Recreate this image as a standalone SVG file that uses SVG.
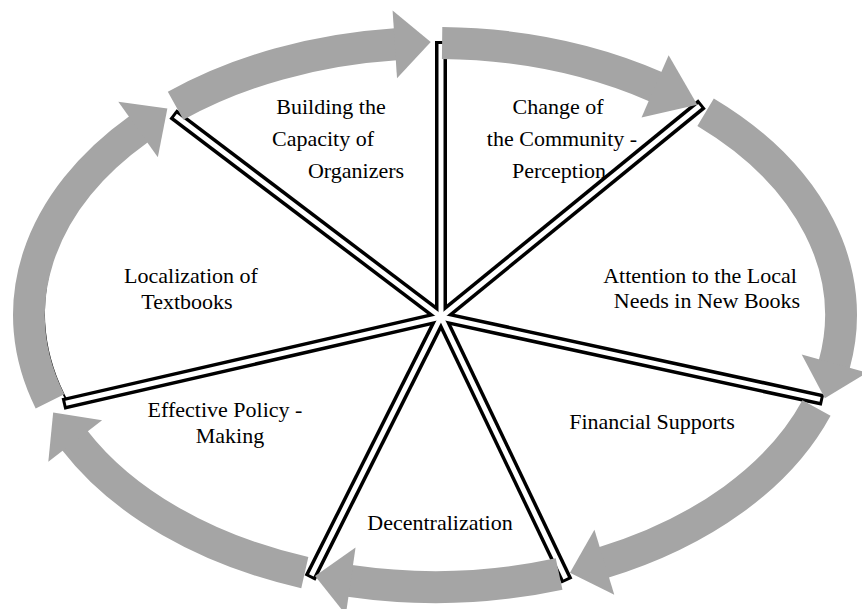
<svg xmlns="http://www.w3.org/2000/svg" width="862" height="609" viewBox="0 0 862 609">
<style>
.outline{fill:none;stroke:#000;stroke-width:1.8}
.sb{stroke:#000;stroke-width:12;fill:none}
.sw{stroke:#fff;stroke-width:5;fill:none}
.band{fill:none;stroke:#a5a5a5;stroke-width:32;stroke-linecap:butt;marker-end:url(#head)}
text{font-family:"Liberation Serif","Times New Roman",serif;font-size:22px;fill:#000;text-anchor:middle}
</style>
<defs>
<marker id="head" markerUnits="userSpaceOnUse" viewBox="-2 -40 42 80" markerWidth="42" markerHeight="80" refX="0" refY="0" orient="auto" overflow="visible">
<path d="M-1,-34 L35,0 L-1,34 Z" fill="#a5a5a5"/>
</marker>
<marker id="headLong" markerUnits="userSpaceOnUse" viewBox="-2 -40 52 80" markerWidth="52" markerHeight="80" refX="0" refY="0" orient="auto" overflow="visible">
<path d="M-1,-34 L45,0 L-1,34 Z" fill="#a5a5a5"/>
</marker>
</defs>
<rect width="862" height="609" fill="#fff"/>
<path class="outline" d="M67.9,402.6 A396,262 0 0 1 160,127.7"/>
<g id="connectors">
<g id="spokes-outer">
<line class="sb" x1="441" y1="317" x2="441" y2="41"/>
<line class="sb" x1="441" y1="317" x2="702" y2="104"/>
<line class="sb" x1="441" y1="317" x2="823" y2="400"/>
<line class="sb" x1="441" y1="317" x2="567" y2="581"/>
<line class="sb" x1="441" y1="317" x2="310" y2="578"/>
<line class="sb" x1="441" y1="317" x2="63" y2="404"/>
<line class="sb" x1="441" y1="317" x2="173" y2="114"/>
</g>
<g id="spokes-inner">
<line class="sw" x1="441" y1="317" x2="441" y2="44"/>
<line class="sw" x1="441" y1="317" x2="699.7" y2="105.9"/>
<line class="sw" x1="441" y1="317" x2="820.1" y2="399.4"/>
<line class="sw" x1="441" y1="317" x2="565.7" y2="578.3"/>
<line class="sw" x1="441" y1="317" x2="311.3" y2="575.3"/>
<line class="sw" x1="441" y1="317" x2="65.9" y2="403.3"/>
<line class="sw" x1="441" y1="317" x2="175.4" y2="115.8"/>
</g>
<g id="cycle-arrows">
<path class="band" d="M175.6,105.8 A406,272 0 0 1 395.8,44.3"/>
<path class="band" style="marker-end:url(#headLong)" d="M442.1,43.0 A406,272 0 0 1 656.0,86.8"/>
<path class="band" d="M705.6,112.2 A406,272 0 0 1 834.2,364.6"/>
<path class="band" d="M816.5,408.0 A406,272 0 0 1 603.4,562.5"/>
<path class="band" d="M559.1,574.0 A406,272 0 0 1 349.7,580.9"/>
<path class="band" d="M304.8,572.6 A406,272 0 0 1 74.6,440.2"/>
<path class="band" d="M50.0,401.3 A406,272 0 0 1 138.9,128.9"/>
</g>
</g>
<g id="node-capacity">
<text x="331" y="114">Building the</text>
<text x="323" y="146">Capacity of</text>
<text x="356" y="178">Organizers</text>
</g>
<g id="node-perception">
<text x="558" y="114">Change of</text>
<text x="562" y="146">the Community -</text>
<text x="559" y="178">Perception</text>
</g>
<g id="node-local-needs">
<text x="700" y="283">Attention to the Local</text>
<text x="707" y="308">Needs in New Books</text>
</g>
<g id="node-financial">
<text x="652" y="429">Financial Supports</text>
</g>
<g id="node-decentralization">
<text x="440" y="530">Decentralization</text>
</g>
<g id="node-policy">
<text x="225" y="417">Effective Policy -</text>
<text x="230" y="443">Making</text>
</g>
<g id="node-localization">
<text x="191" y="283">Localization of</text>
<text x="187" y="309">Textbooks</text>
</g>
</svg>
